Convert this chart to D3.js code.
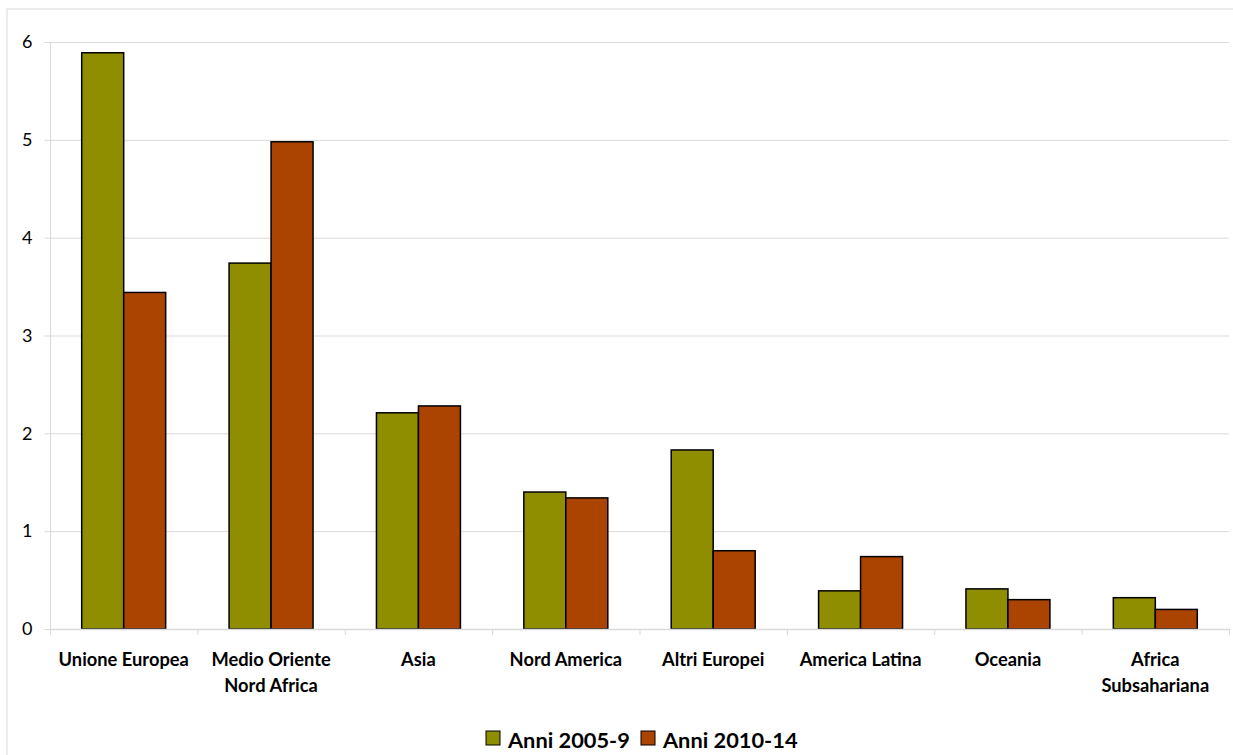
<!DOCTYPE html>
<html><head><meta charset="utf-8">
<script src="https://cdn.jsdelivr.net/npm/d3@7"></script>
<style>body{margin:0;background:#fff}svg{display:block;font-family:Lato,"Open Sans",sans-serif}</style>
</head><body><svg id="c" width="1233" height="755"></svg>
<script>
const categories = [["Unione Europea"],["Medio Oriente","Nord Africa"],["Asia"],["Nord America"],["Altri Europei"],["America Latina"],["Oceania"],["Africa","Subsahariana"]];
const seriesNames = ["Anni 2005-9","Anni 2010-14"];
const values2005 = [5.89,3.74,2.21,1.40,1.83,0.39,0.41,0.32];
const values2010 = [3.44,4.98,2.28,1.34,0.80,0.74,0.30,0.20];
const yTicks = [0,1,2,3,4,5,6];
const colors = ["#8e8e00","#aa4400"];

const svg = d3.select("#c");
const m = {l:50, r:1229, t:42, b:629};
// outer border
svg.append("path").attr("d","M7,755 V9 H1233").attr("fill","none").attr("stroke","#d9d9d9").attr("stroke-width",1);

const x = d3.scaleBand().domain(d3.range(categories.length)).range([m.l,m.r]).paddingInner(0).paddingOuter(0);
const x1 = d3.scaleBand().domain([0,1]).range([0,x.bandwidth()]).paddingOuter(0.755).paddingInner(0);
const y = d3.scaleLinear().domain([0,6]).range([m.b,m.t]);

// gridlines
svg.append("g").selectAll("line").data(yTicks.filter(d=>d>0)).join("line")
 .attr("x1",m.l).attr("x2",m.r).attr("y1",d=>y(d)+0.5).attr("y2",d=>y(d)+0.5)
 .attr("stroke","#d9d9d9");

// y axis
const ya = svg.append("g").attr("transform",`translate(${m.l+0.5},0)`)
 .call(d3.axisLeft(y).tickValues(yTicks).tickSize(6).tickPadding(12).tickFormat(d3.format("d")));
ya.select(".domain").attr("stroke","#d9d9d9").attr("d",`M-6,${y(6)+0.5}H0V${y(0)+0.5}`);
ya.selectAll(".tick line").attr("stroke","#d9d9d9");
ya.selectAll(".tick text").attr("font-size",18).attr("fill","#000").attr("font-family","Lato,'Open Sans',sans-serif");

// bars
const data = categories.map((c,i)=>({i, v:[values2005[i],values2010[i]]}));
const g = svg.append("g").selectAll("g").data(data).join("g").attr("transform",d=>`translate(${x(d.i)},0)`);
g.selectAll("rect").data(d=>d.v.map((v,k)=>({v,k}))).join("rect")
 .attr("x",d=>x1(d.k)).attr("width",x1.bandwidth())
 .attr("y",d=>y(d.v)).attr("height",d=>y(0)-y(d.v))
 .attr("fill",d=>colors[d.k]).attr("stroke","#000").attr("stroke-width",1.5);

// x axis
const xa = svg.append("g");
xa.append("line").attr("x1",m.l).attr("x2",m.r+1).attr("y1",y(0)+0.5).attr("y2",y(0)+0.5).attr("stroke","#d9d9d9").attr("stroke-width",1.5);
xa.selectAll("line.t").data(d3.range(categories.length+1)).join("line").attr("class","t")
 .attr("x1",d=>m.l+d*x.bandwidth()+0.5).attr("x2",d=>m.l+d*x.bandwidth()+0.5)
 .attr("y1",y(0)).attr("y2",y(0)+6).attr("stroke","#d9d9d9");
const lbl = xa.selectAll("text").data(categories).join("text")
 .attr("text-anchor","middle").attr("font-size",18.3).attr("font-weight","bold").attr("fill","#000");
lbl.each(function(c,i){
  const t = d3.select(this);
  c.forEach((s,k)=>t.append("tspan").attr("x",x(i)+x.bandwidth()/2).attr("y",666+k*26).text(s));
});

// legend
const leg = svg.append("g");
const legItems = [{n:seriesNames[0],c:colors[0],x:486},{n:seriesNames[1],c:colors[1],x:641}];
legItems.forEach(it=>{
  leg.append("rect").attr("x",it.x).attr("y",731).attr("width",14).attr("height",14).attr("fill",it.c).attr("stroke","#000").attr("stroke-width",1);
  leg.append("text").attr("x",it.x+22).attr("y",748).attr("font-size",21.8).attr("font-weight","bold").attr("fill","#000").text(it.n);
});
</script></body></html>
